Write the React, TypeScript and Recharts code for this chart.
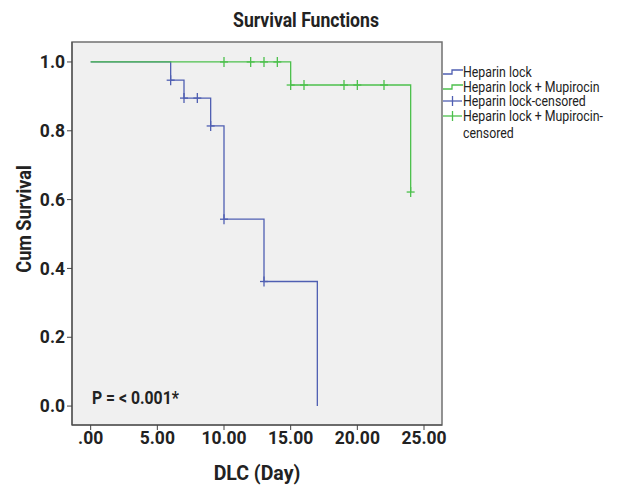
import { ComposedChart, Line, Scatter, XAxis, YAxis, CartesianGrid, ReferenceArea } from 'recharts'

// Kaplan-Meier steps
const heparinTimes = [0, 6, 7, 9, 10, 13, 17]
const heparinSurvival = [1.0, 0.947, 0.895, 0.814, 0.543, 0.362, 0.0]
const heparinCensorTimes = [6, 7, 8, 9, 10, 13]
const heparinCensorSurvival = [0.947, 0.895, 0.895, 0.814, 0.543, 0.362]

const mupirocinTimes = [0, 15, 24]
const mupirocinSurvival = [1.0, 0.933, 0.622]
const mupirocinCensorTimes = [10, 12, 13, 14, 15, 16, 19, 20, 22, 24]
const mupirocinCensorSurvival = [1, 1, 1, 1, 0.933, 0.933, 0.933, 0.933, 0.933, 0.622]

const xTicks = [0, 5, 10, 15, 20, 25]
const yTicks = [0, 0.2, 0.4, 0.6, 0.8, 1.0]

const BLUE = '#4f5fb2'
const GREEN = '#4cc04c'
const FONT = 'Roboto, "Liberation Sans", sans-serif'

const legendItems = [
  { label: 'Heparin lock', kind: 'line', color: BLUE },
  { label: 'Heparin lock + Mupirocin', kind: 'line', color: GREEN },
  { label: 'Heparin lock-censored', kind: 'plus', color: BLUE },
  { label: 'Heparin lock + Mupirocin-', kind: 'plus', color: GREEN },
]

const toPoints = (xs: number[], ys: number[]) => xs.map((x, i) => ({ x, y: ys[i] }))

const Plus = (props: any) => {
  const { cx, cy, fill } = props
  if (cx == null || cy == null) return null
  return (
    <g stroke={fill} strokeWidth={1.3}>
      <line x1={cx - 4} y1={cy} x2={cx + 4} y2={cy} />
      <line x1={cx} y1={cy - 5} x2={cx} y2={cy + 5} />
    </g>
  )
}

const fmtX = (v: number) => (v === 0 ? '.00' : v.toFixed(2))

// the original uses a narrow face; squeeze Roboto a little
const narrow = (extra = '') => ({ display: 'inline-block', transform: `${extra} scaleX(0.88)`, transformOrigin: 'left center' })

export default function App() {
  const tickStyle = { fontSize: 17.5, fontWeight: 700, fill: '#222', fontFamily: FONT }
  return (
    <div style={{ position: 'absolute', left: 0, top: 0, width: 624, height: 486, background: '#fff', fontFamily: FONT, color: '#222' }}>
      <div style={{ position: 'absolute', left: 306, top: 20, transform: 'translate(-50%, -50%) scaleX(0.88)', whiteSpace: 'nowrap', fontSize: 20, fontWeight: 700 }}>
        Survival Functions
      </div>
      <div style={{ position: 'absolute', left: 24, top: 219, transform: 'translate(-50%, -50%) rotate(-90deg) scaleX(0.88)', whiteSpace: 'nowrap', fontSize: 20.5, fontWeight: 700 }}>
        Cum Survival
      </div>
      <ComposedChart width={624} height={486} margin={{ top: 42, right: 182, left: 0, bottom: 0 }}>
        <CartesianGrid fill="#f0f0f0" horizontal={false} vertical={false} />
        <XAxis
          type="number"
          dataKey="x"
          domain={[-1.4, 26.35]}
          ticks={xTicks}
          tickFormatter={fmtX}
          height={61}
          tickSize={5}
          stroke="#444"
          tick={tickStyle}
          allowDataOverflow
          label={{ value: 'DLC (Day)', position: 'insideBottom', offset: 6, style: { fontSize: 19.5, fontWeight: 700, fill: '#222', fontFamily: FONT } }}
        />
        <YAxis
          type="number"
          dataKey="y"
          domain={[-0.055, 1.058]}
          ticks={yTicks}
          tickFormatter={(v: number) => v.toFixed(1)}
          width={72}
          tickSize={5}
          stroke="#444"
          tick={tickStyle}
          allowDataOverflow
        />
        <ReferenceArea x1={-1.4} x2={26.35} y1={-0.055} y2={1.058} fill="none" stroke="#707070" strokeWidth={1.5} />
        <Line data={toPoints(heparinTimes, heparinSurvival)} dataKey="y" type="stepAfter" stroke={BLUE} strokeWidth={1.3} dot={false} isAnimationActive={false} />
        <Line data={toPoints(mupirocinTimes, mupirocinSurvival)} dataKey="y" type="stepAfter" stroke={GREEN} strokeWidth={1.3} dot={false} isAnimationActive={false} />
        <Scatter data={toPoints(heparinCensorTimes, heparinCensorSurvival)} fill={BLUE} shape={<Plus />} isAnimationActive={false} />
        <Scatter data={toPoints(mupirocinCensorTimes, mupirocinCensorSurvival)} fill={GREEN} shape={<Plus />} isAnimationActive={false} />
      </ComposedChart>
      <div style={{ position: 'absolute', left: 92, top: 398, transform: 'translateY(-50%) scaleX(0.9)', transformOrigin: 'left center', whiteSpace: 'nowrap', fontSize: 17.5, fontWeight: 700 }}>
        P = &lt; 0.001*
      </div>
      <div style={{ position: 'absolute', left: 443, top: 65, fontSize: 14, lineHeight: '14.5px' }}>
        {legendItems.map((item) => (
          <div key={item.label} style={{ display: 'flex', alignItems: 'center', height: 14.5 }}>
            <svg width={20} height={14} style={{ flex: 'none' }}>
              {item.kind === 'line' ? (
                <polyline points="0,9 9,9 9,5 20,5" fill="none" stroke={item.color} strokeWidth={1.3} />
              ) : (
                <g stroke={item.color} strokeWidth={1.3}>
                  <line x1={0} y1={7} x2={19} y2={7} />
                  <line x1={9.5} y1={2} x2={9.5} y2={12} />
                </g>
              )}
            </svg>
            <span style={{ whiteSpace: 'nowrap', ...narrow() }}>{item.label}</span>
          </div>
        ))}
        <div style={{ paddingLeft: 20, marginTop: 3, whiteSpace: 'nowrap' }}>
          <span style={narrow()}>censored</span>
        </div>
      </div>
    </div>
  )
}
